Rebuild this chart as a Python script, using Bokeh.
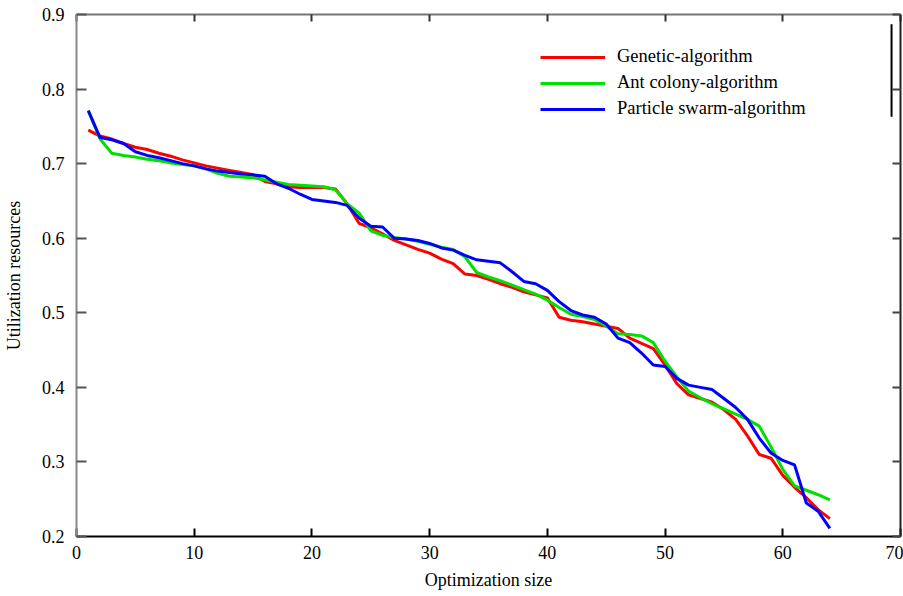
from bokeh.plotting import figure
from bokeh.models import LinearAxis, FixedTicker, Legend, LegendItem, Range1d
from bokeh.embed import file_html
from bokeh.resources import INLINE

# ---------------- data ----------------
opt_size = list(range(1, 65))

genetic = [0.745, 0.737, 0.733, 0.727, 0.722, 0.719, 0.714, 0.710, 0.705, 0.701,
           0.697, 0.694, 0.691, 0.688, 0.685, 0.676, 0.673, 0.669, 0.668, 0.668,
           0.668, 0.666, 0.646, 0.620, 0.614, 0.606, 0.597, 0.591, 0.585, 0.580,
           0.572, 0.566, 0.552, 0.550, 0.545, 0.539, 0.534, 0.528, 0.524, 0.520,
           0.494, 0.490, 0.488, 0.485, 0.482, 0.479, 0.466, 0.459, 0.452, 0.430,
           0.405, 0.390, 0.385, 0.380, 0.370, 0.357, 0.335, 0.310, 0.305, 0.282,
           0.266, 0.252, 0.236, 0.224]

ant_colony = [0.771, 0.733, 0.714, 0.711, 0.709, 0.706, 0.704, 0.701, 0.699, 0.697,
              0.693, 0.687, 0.683, 0.682, 0.681, 0.678, 0.675, 0.672, 0.671, 0.670,
              0.669, 0.665, 0.646, 0.634, 0.610, 0.604, 0.601, 0.599, 0.596, 0.592,
              0.588, 0.585, 0.575, 0.554, 0.548, 0.543, 0.537, 0.531, 0.525, 0.517,
              0.507, 0.498, 0.495, 0.491, 0.482, 0.472, 0.471, 0.469, 0.460, 0.435,
              0.414, 0.395, 0.386, 0.378, 0.371, 0.364, 0.357, 0.348, 0.320, 0.290,
              0.268, 0.262, 0.256, 0.249]

particle_swarm = [0.771, 0.735, 0.732, 0.727, 0.716, 0.711, 0.708, 0.704, 0.700, 0.697,
                  0.693, 0.690, 0.688, 0.686, 0.685, 0.683, 0.673, 0.667, 0.659, 0.652,
                  0.650, 0.648, 0.644, 0.627, 0.616, 0.615, 0.600, 0.599, 0.597, 0.593,
                  0.587, 0.584, 0.577, 0.571, 0.569, 0.567, 0.555, 0.542, 0.539, 0.530,
                  0.515, 0.503, 0.497, 0.494, 0.485, 0.466, 0.460, 0.446, 0.430, 0.428,
                  0.412, 0.403, 0.400, 0.397, 0.385, 0.373, 0.357, 0.332, 0.312, 0.302,
                  0.296, 0.245, 0.234, 0.211]

series_names = ["Genetic-algorithm", "Ant colony-algorithm", "Particle swarm-algorithm"]
series_colors = ["#ff0000", "#00e000", "#0000ff"]

x_ticks = [0, 10, 20, 30, 40, 50, 60, 70]
y_ticks = [0.2, 0.3, 0.4, 0.5, 0.6, 0.7, 0.8, 0.9]

# stray vertical bar near the legend (as in the original figure)
bar_x = [69.24]
bar_y0 = [0.887]
bar_y1 = [0.763]

FONT = "Liberation Serif"

p = figure(width=903, height=596, output_backend="svg", toolbar_location=None,
           x_range=Range1d(0, 70), y_range=Range1d(0.2, 0.9),
           min_border_left=76, min_border_top=14, min_border_right=3, min_border_bottom=60,
           x_axis_label="Optimization size", y_axis_label="Utilization resources")
p.grid.visible = False
p.outline_line_color = None
p.background_fill_color = "white"
p.border_fill_color = "white"

renderers = []
for ys, c in zip([genetic, ant_colony, particle_swarm], series_colors):
    r = p.line(opt_size, ys, line_color=c, line_width=3)
    renderers.append(r)

p.segment(x0=bar_x, y0=bar_y0, x1=bar_x, y1=bar_y1, line_color="black", line_width=2)

# bottom axis
xa = p.xaxis[0]
xa.ticker = FixedTicker(ticks=x_ticks)
xa.minor_tick_line_color = None
xa.major_tick_in = 8
xa.major_tick_out = 0
xa.axis_line_color = "black"
xa.axis_line_width = 2
xa.major_tick_line_color = "black"
xa.major_tick_line_width = 2
xa.major_label_standoff = 9
xa.major_label_text_font = FONT
xa.major_label_text_font_size = "18px"
xa.major_label_text_color = "black"
xa.axis_label_text_font = FONT
xa.axis_label_text_font_size = "18px"
xa.axis_label_text_font_style = "normal"
xa.axis_label_text_color = "black"
xa.axis_label_standoff = 8

# left axis
ya = p.yaxis[0]
ya.ticker = FixedTicker(ticks=y_ticks)
ya.minor_tick_line_color = None
ya.major_tick_in = 10
ya.major_tick_out = 0
ya.axis_line_color = "#888888"
ya.axis_line_width = 2
ya.major_tick_line_color = "#555555"
ya.major_tick_line_width = 2
ya.major_label_standoff = 12
ya.major_label_text_font = FONT
ya.major_label_text_font_size = "18px"
ya.major_label_text_color = "black"
ya.axis_label_text_font = FONT
ya.axis_label_text_font_size = "18px"
ya.axis_label_text_font_style = "normal"
ya.axis_label_text_color = "black"
ya.axis_label_standoff = 15

# top axis (frame)
ta = LinearAxis(ticker=FixedTicker(ticks=x_ticks), major_tick_in=7, major_tick_out=0,
                minor_tick_line_color=None, axis_line_color="#777777", axis_line_width=2,
                major_tick_line_color="#333333", major_tick_line_width=2,
                major_label_overrides={t: "" for t in x_ticks},
                major_label_text_font_size="1px", major_label_standoff=0)
p.add_layout(ta, "above")

# right axis (frame)
ra = LinearAxis(ticker=FixedTicker(ticks=y_ticks), major_tick_in=8, major_tick_out=0,
                minor_tick_line_color=None, axis_line_color="#222222", axis_line_width=2,
                major_tick_line_color="#444444", major_tick_line_width=2,
                major_label_overrides={t: "" for t in y_ticks},
                major_label_text_font_size="1px", major_label_standoff=0)
p.add_layout(ra, "right")

legend = Legend(items=[LegendItem(label=n, renderers=[r]) for n, r in zip(series_names, renderers)],
                location=(464, 417), border_line_color=None, background_fill_alpha=0,
                padding=0, margin=0, spacing=5, glyph_width=65, glyph_height=20,
                label_height=20, label_standoff=12, label_text_font=FONT,
                label_text_font_size="18.5px", label_text_color="black")
p.add_layout(legend)

open("out.html", "w").write(file_html(p, INLINE))
